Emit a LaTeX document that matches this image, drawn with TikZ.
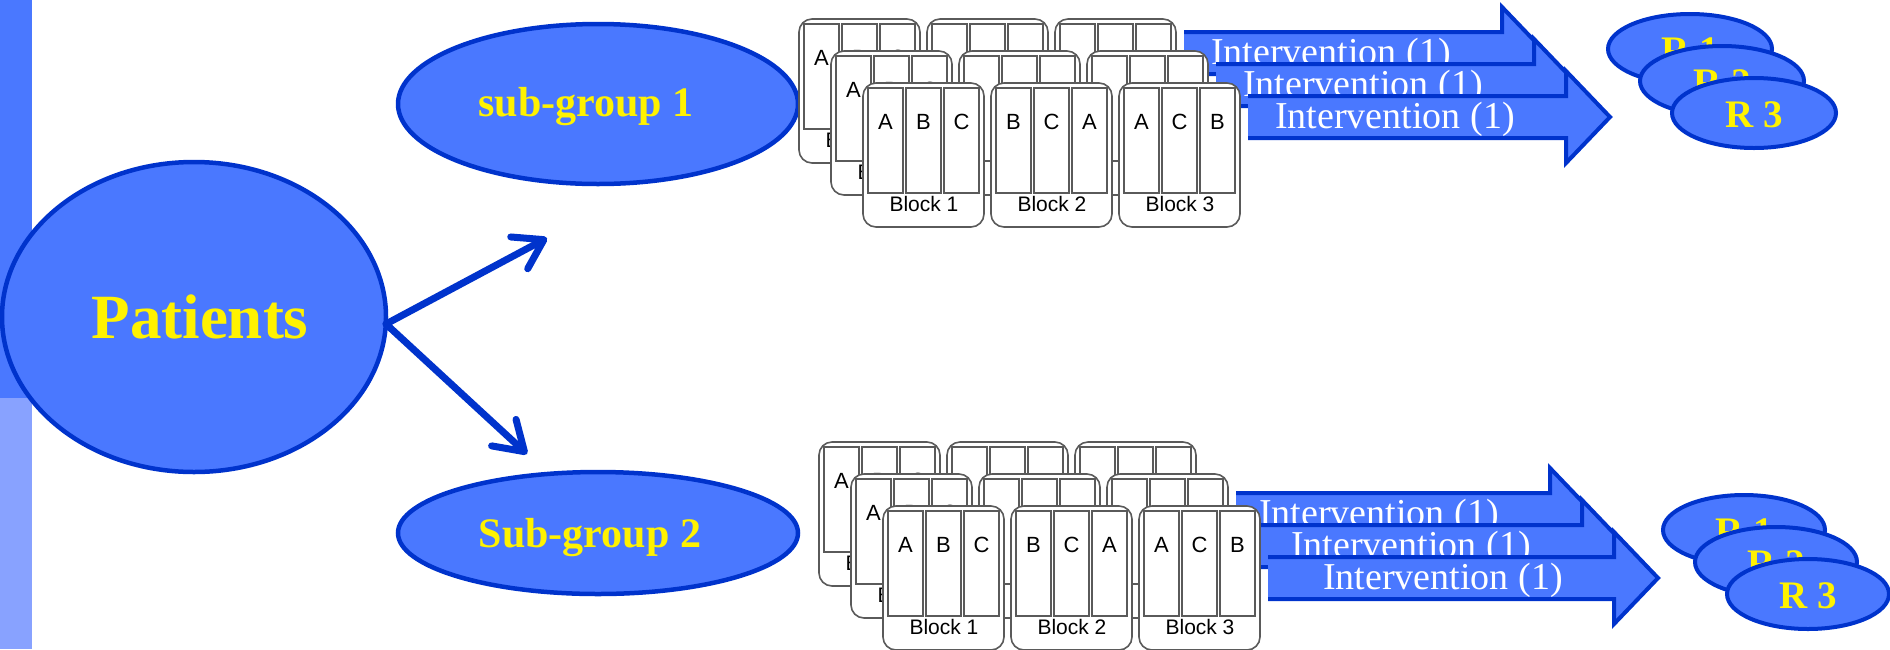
\documentclass[tikz,border=0pt]{standalone}
\usepackage{fontspec}
\setmainfont{Liberation Serif}
\newfontfamily\arialf{Liberation Sans}
\usetikzlibrary{arrows.meta,shapes.geometric}
\definecolor{fillblue}{HTML}{4A78FF}
\definecolor{edgeblue}{HTML}{0033CC}
\definecolor{lightstrip}{HTML}{88A2FF}
\definecolor{cardgray}{HTML}{5A5A5A}
\tikzset{
  bubble/.style={ellipse, draw=edgeblue, fill=fillblue, line width=4.5pt, inner sep=0pt},
  ytext/.style={text=yellow, font=\bfseries\fontsize{#1}{#1}\selectfont, inner sep=0pt, anchor=base},
  interv/.style={text=white, font=\fontsize{38}{38}\selectfont, inner sep=0pt, anchor=base},
  cardbox/.style={draw=cardgray, line width=1.6pt, fill=white, rounded corners=13pt},
  colbox/.style={draw=cardgray, line width=1.4pt},
  lett/.style={font=\arialf\fontsize{22}{22}\selectfont, inner sep=0pt},
  blabel/.style={font=\arialf\fontsize{21}{21}\selectfont, inner sep=0pt},
  conn/.style={draw=edgeblue, line width=7pt, line cap=round, -{Straight Barb[length=28pt,width=36pt,round]}},
  harrow/.style={fill=fillblue},
  harrowedge/.style={draw=edgeblue, line width=4pt, line join=miter},
}
% card: x0 y0 l1 l2 l3 label name
\newcommand\card[7]{%
  \begin{scope}[shift={(#1,#2)}]
    \draw[cardbox] (0,0) rectangle (121,144);
    \draw[colbox] (5,5) rectangle (40,110);
    \draw[colbox] (43,5) rectangle (78,110);
    \draw[colbox] (81,5) rectangle (116,110);
    \node[lett] (#7a) at (22.5,39) {#3};
    \node[lett] (#7b) at (60.5,39) {#4};
    \node[lett] (#7c) at (98.5,39) {#5};
    \node[blabel] (#7l) at (61,121) {#6};
  \end{scope}}
% front layer: x0 y0 name
\newcommand\frontrow[3]{%
  \card{#1}{#2}{A}{B}{C}{Block 1}{#3one}
  \card{#1+128}{#2}{B}{C}{A}{Block 2}{#3two}
  \card{#1+256}{#2}{A}{C}{B}{Block 3}{#3three}}
% hidden layer: x0 y0 name
\newcommand\backrow[3]{%
  \card{#1}{#2}{A}{B}{C}{Block 1}{#3one}
  \card{#1+128}{#2}{}{}{}{}{#3two}
  \card{#1+256}{#2}{}{}{}{}{#3three}}
% big arrow: xs xb yc name
\newcommand\bigarrow[4]{%
  \fill[harrow] (#1,#3-21) -- (#2,#3-21) -- (#2,#3-46) -- (#2+44,#3) -- (#2,#3+46) -- (#2,#3+21) -- (#1,#3+21) -- cycle;
  \draw[harrowedge] (#1,#3-21) -- (#2,#3-21) -- (#2,#3-46) -- (#2+44,#3) -- (#2,#3+46) -- (#2,#3+21) -- (#1,#3+21);
  \node[interv] (#4) at (#2-171,#3+11) {Intervention (1)};}
\begin{document}
\begin{tikzpicture}[x=1pt,y=-1pt]
\useasboundingbox (0,0) rectangle (1890,649);
% left strip
\fill[fillblue] (0,0) rectangle (32,398);
\fill[lightstrip] (0,398) rectangle (32,649);
% Patients
\node[bubble, minimum width=384pt, minimum height=310pt] (pat) at (194,317) {};
\node[ytext=63] (patt) at (200,338) {Patients};
% connectors
\coordinate (j) at (386,324);
\coordinate (t1) at (547,238);
\coordinate (t2) at (527,454);
\draw[conn] (j) -- (t1);
\draw[conn] (j) -- (t2);
% sub-groups
\node[bubble, minimum width=400pt, minimum height=160pt] (sg1) at (598,104) {};
\node[ytext=42] (sg1t) at (586,116) {sub-group 1};
\node[bubble, minimum width=400pt, minimum height=122pt] (sg2) at (598,533) {};
\node[ytext=42] (sg2t) at (590,547) {Sub-group 2};
% top group
\backrow{799}{19}{tb}
\bigarrow{1184}{1502}{53}{tib}
\backrow{831}{51}{tm}
\bigarrow{1216}{1534}{85}{tim}
\frontrow{863}{83}{tf}
\bigarrow{1248}{1566}{117}{tif}
% bottom group
\backrow{819}{442}{bb}
\bigarrow{1236}{1550}{514}{bib}
\backrow{851}{474}{bm}
\bigarrow{1252}{1582}{546}{bim}
\frontrow{883}{506}{bf}
\bigarrow{1268}{1614}{578}{bif}
% results top
\node[bubble, line width=4pt, minimum width=164pt, minimum height=70pt] (ra1) at (1690,49) {};
\node[ytext=39] (ra1t) at (1690,63) {R 1};
\node[bubble, line width=4pt, minimum width=164pt, minimum height=70pt] (ra2) at (1722,81) {};
\node[ytext=39] (ra2t) at (1722,95) {R 2};
\node[bubble, line width=4pt, minimum width=164pt, minimum height=70pt] (ra3) at (1754,113) {};
\node[ytext=39] (ra3t) at (1754,127) {R 3};
% results bottom
\node[bubble, line width=4pt, minimum width=162pt, minimum height=70pt] (rb1) at (1744,530) {};
\node[ytext=39] (rb1t) at (1744,544) {R 1};
\node[bubble, line width=4pt, minimum width=162pt, minimum height=70pt] (rb2) at (1776,562) {};
\node[ytext=39] (rb2t) at (1776,576) {R 2};
\node[bubble, line width=4pt, minimum width=162pt, minimum height=70pt] (rb3) at (1808,594) {};
\node[ytext=39] (rb3t) at (1808,608) {R 3};
\end{tikzpicture}
\end{document}
